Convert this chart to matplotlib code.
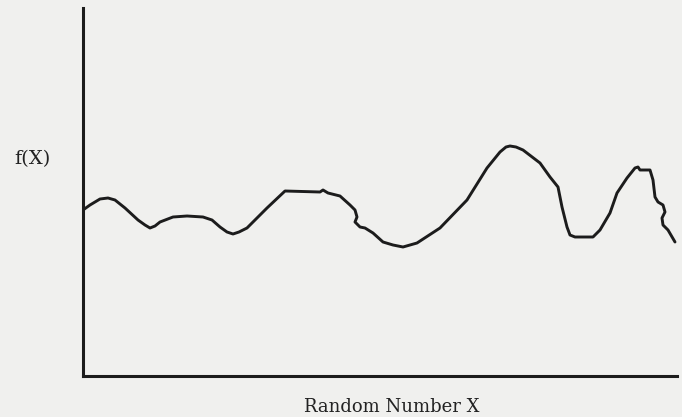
import matplotlib
matplotlib.use("Agg")
import matplotlib.pyplot as plt

# Curve (x: distance along the axis, y: height above the x-axis)
curve_x = [0, 7, 17, 25, 32, 42, 55, 62, 67, 72, 77, 90, 104, 120, 129, 137, 144, 150,
           156, 164, 184, 202, 237, 240, 245, 257, 267, 272, 274, 272, 277, 282, 290,
           300, 310, 320, 334, 357, 384, 404, 417, 423, 427, 433, 440, 457, 467, 475,
           479, 484, 487, 492, 497, 510, 517, 527, 534, 544, 552, 555, 557, 567, 570,
           572, 575, 580, 582, 579, 580, 585, 592]
curve_y = [166, 171, 177, 178, 176, 168, 156, 151, 148, 150, 154, 159, 160, 159, 156,
           149, 144, 142, 144, 148, 168, 185, 184, 186, 183, 180, 171, 166, 159, 154,
           149, 148, 143, 134, 131, 129, 133, 148, 176, 208, 224, 229, 230, 229, 226,
           213, 199, 189, 169, 149, 141, 139, 139, 139, 146, 163, 183, 198, 208, 209,
           206, 206, 196, 179, 174, 171, 164, 158, 151, 146, 134]

x_label = "Random Number X"
y_label = "f(X)"

W, H = 682, 417
fig = plt.figure(figsize=(W / 100, H / 100), dpi=100)
bg = "#f0f0ee"
fig.patch.set_facecolor(bg)

left, right, bottom, top = 83, 677, 376, 8
ax = fig.add_axes([left / W, 1 - bottom / H, (right - left) / W, (bottom - top) / H])
ax.set_facecolor(bg)
ax.plot(curve_x, curve_y, color="#1c1c1c", lw=2.1, solid_joinstyle="round",
        solid_capstyle="round")
ax.set_xlim(0, right - left)
ax.set_ylim(0, bottom - top)
for s in ["top", "right"]:
    ax.spines[s].set_visible(False)
for s in ["left", "bottom"]:
    ax.spines[s].set_linewidth(2.2)
    ax.spines[s].set_color("#1c1c1c")
ax.set_xticks([])
ax.set_yticks([])

fig.text(32 / W, 1 - 159 / H, y_label, fontsize=14, family="DejaVu Serif",
         ha="center", va="center", color="#222222")
fig.text(392 / W, 1 - 407 / H, x_label, fontsize=13, family="DejaVu Serif",
         ha="center", va="center", color="#222222")

fig.savefig("out.png", dpi=100, facecolor=bg)
